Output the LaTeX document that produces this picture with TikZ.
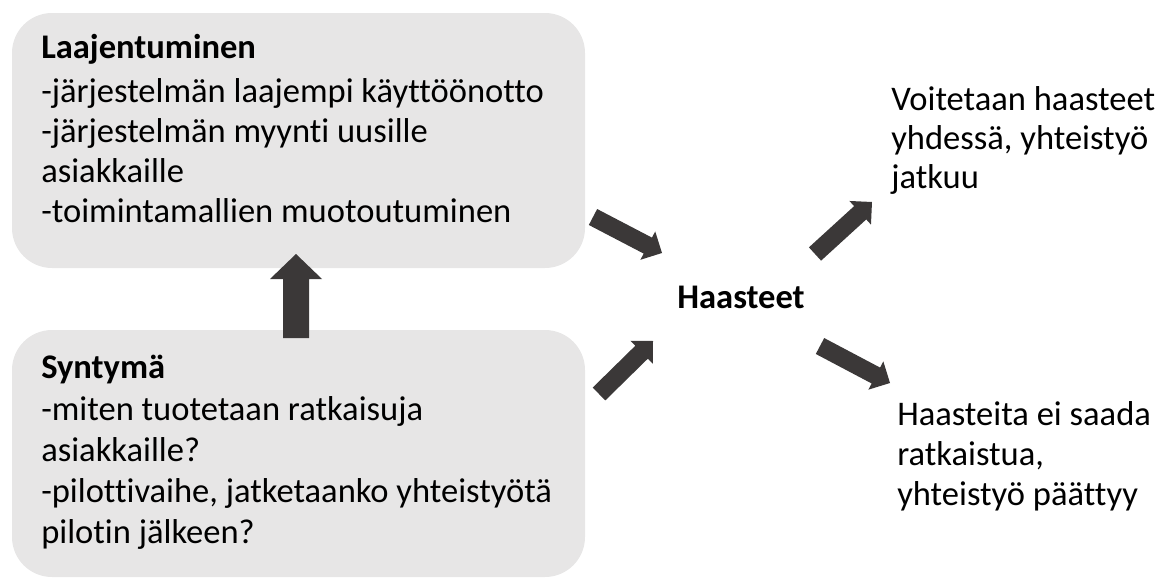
\documentclass[tikz,border=0pt]{standalone}
\usepackage{fontspec}
\setmainfont{Carlito}[Ligatures=NoCommon]
\usetikzlibrary{calc}
\definecolor{boxfill}{HTML}{E7E6E6}
\definecolor{arrowfill}{HTML}{3B3838}
\tikzset{
  panel/.style={fill=boxfill, draw=none, rounded corners=30pt, inner sep=0pt},
  txt/.style={anchor=north west, align=left, inner sep=0pt},
  blockarr/.style={fill=arrowfill, draw=none},
}
\newcommand\blockarrow[5]{%
  \coordinate (ba-h) at ($(#2)!#5!(#1)$);
  \fill[blockarr] ($(#1)!#3!90:(#2)$) -- ($(ba-h)!#3!-90:(#1)$) -- ($(ba-h)!#4!-90:(#1)$)
    -- (#2) -- ($(ba-h)!#4!90:(#1)$) -- ($(ba-h)!#3!90:(#1)$) -- ($(#1)!#3!-90:(#2)$) -- cycle;
}
\begin{document}
\begin{tikzpicture}[x=0.75pt,y=-0.75pt]
\useasboundingbox (0,0) rectangle (1171,578);
% boxes
\node[panel, minimum width=429.75pt, minimum height=191.25pt] (topbox) at (298.5,140.5) {};
\node[panel, minimum width=429.75pt, minimum height=185.25pt] (botbox) at (298.5,453.5) {};
% texts
\node[txt, font=\fontsize{25.9}{30}\selectfont] (toptext) at (41,31.33)
  {\rule{0pt}{20pt}\textbf{Laajentuminen}\\[3pt]
   -järjestelmän laajempi käyttöönotto\\
   -järjestelmän myynti uusille\\
   asiakkaille\\
   -toimintamallien muotoutuminen};
\node[txt, font=\fontsize{25.9}{30.75}\selectfont] (bottext) at (41,351.33)
  {\rule{0pt}{20pt}\textbf{Syntymä}\\[0.75pt]
   -miten tuotetaan ratkaisuja\\
   asiakkaille?\\
   -pilottivaihe, jatketaanko yhteistyötä\\
   pilotin jälkeen?};
\node[anchor=base, inner sep=0pt, font=\fontsize{25.9}{30}\selectfont\bfseries] (haasteet) at (741,308) {Haasteet};
\node[txt, font=\fontsize{25.9}{29.25}\selectfont] (win) at (891,83.33)
  {\rule{0pt}{20pt}Voitetaan haasteet\\
   yhdessä, yhteistyö\\
   jatkuu};
\node[txt, font=\fontsize{25.9}{30}\selectfont] (fail) at (897,398.33)
  {\rule{0pt}{20pt}Haasteita ei saada\\
   ratkaistua,\\
   yhteistyö päättyy};
% arrow end points
\coordinate (up-tail) at (296,338);
\coordinate (up-tip) at (296,254);
\coordinate (a1-tail) at (593,217);
\coordinate (a1-tip) at (662,253);
\coordinate (a2-tail) at (599,394);
\coordinate (a2-tip) at (653,341);
\coordinate (a3-tail) at (815,254);
\coordinate (a3-tip) at (872,202);
\coordinate (a4-tail) at (820,346);
\coordinate (a4-tip) at (890,383);
\blockarrow{up-tail}{up-tip}{9.75pt}{19.5pt}{18.75pt}
\blockarrow{a1-tail}{a1-tip}{6.75pt}{12pt}{12pt}
\blockarrow{a2-tail}{a2-tip}{6.75pt}{12pt}{12pt}
\blockarrow{a3-tail}{a3-tip}{6.75pt}{12pt}{12pt}
\blockarrow{a4-tail}{a4-tip}{6.75pt}{12pt}{12pt}
\end{tikzpicture}
\end{document}
